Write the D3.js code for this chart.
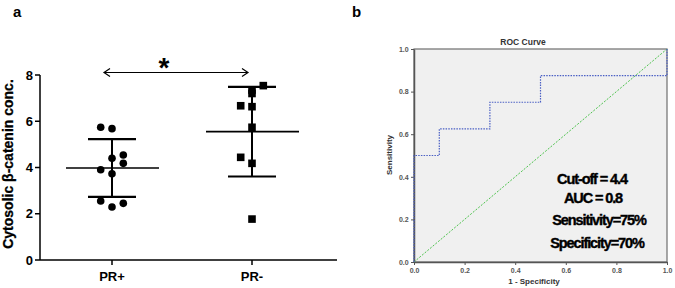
<!DOCTYPE html>
<html>
<head>
<meta charset="utf-8">
<script src="https://cdn.jsdelivr.net/npm/d3@7"></script>
<style>
  body { margin: 0; background: #fff; }
  svg { display: block; font-family: Arial, "Liberation Sans", sans-serif; }
</style>
</head>
<body>
<div id="chart"></div>
<script>
// panel a data
var groups = ["PR+", "PR-"];
var prPos = [5.74, 5.68, 4.40, 4.54, 4.18, 3.90, 3.73, 2.55, 2.29, 2.45];
var prPosOffset = [-1, 0, 0, 1, 1, -1, 0, -1, 0, 1];
var prNeg = [7.54, 7.35, 7.20, 6.67, 6.63, 5.74, 4.44, 4.18, 1.77];
var prNegOffset = [1, 0, 0, -1, 0, 0, -1, 0, 0];
var groupMean = [3.98, 5.55];
var groupSD = [1.25, 1.94];
var yTicksA = [0, 2, 4, 6, 8];

// panel b data
var rocFpr = [0, 0, 0.1, 0.1, 0.3, 0.3, 0.5, 0.5, 1, 1];
var rocTpr = [0, 0.5, 0.5, 0.625, 0.625, 0.75, 0.75, 0.875, 0.875, 1];
var rocTicks = [0, 0.2, 0.4, 0.6, 0.8, 1.0];
var statLines = ["Cut-off = 4.4", "AUC = 0.8", "Sensitivity=75%", "Specificity=70%"];

var svg = d3.select("#chart").append("svg")
    .attr("width", 675)
    .attr("height", 288);

// ---------- panel a ----------
var a = svg.append("g");

var xA = d3.scalePoint().domain(groups).range([112, 252]);
var yA = d3.scaleLinear().domain([0, 8]).range([260, 75]);

a.append("text").attr("x", 13).attr("y", 17)
    .attr("font-size", 15).attr("font-weight", "bold").text("a");

// axes
a.append("line").attr("x1", 40).attr("x2", 40).attr("y1", yA(8)).attr("y2", yA(0))
    .attr("stroke", "#000").attr("stroke-width", 1.5);
a.append("line").attr("x1", 40).attr("x2", 337).attr("y1", yA(0)).attr("y2", yA(0))
    .attr("stroke", "#000").attr("stroke-width", 1.5);

a.selectAll(".ytick").data(yTicksA).enter().append("line")
    .attr("x1", 35).attr("x2", 40)
    .attr("y1", d => yA(d)).attr("y2", d => yA(d))
    .attr("stroke", "#000").attr("stroke-width", 1.5);
a.selectAll(".ylab").data(yTicksA).enter().append("text")
    .attr("x", 33).attr("y", d => yA(d) + 4.5)
    .attr("text-anchor", "end").attr("font-size", 13).attr("font-weight", "bold")
    .text(d => d);

a.selectAll(".xtick").data(groups).enter().append("line")
    .attr("x1", d => xA(d)).attr("x2", d => xA(d))
    .attr("y1", yA(0)).attr("y2", yA(0) + 5)
    .attr("stroke", "#000").attr("stroke-width", 1.5);
a.selectAll(".xlab").data(groups).enter().append("text")
    .attr("x", d => xA(d)).attr("y", 281)
    .attr("text-anchor", "middle").attr("font-size", 13).attr("font-weight", "bold")
    .text(d => d);

a.append("text")
    .attr("transform", "translate(13,164) rotate(-90)")
    .attr("text-anchor", "middle").attr("font-size", 14).attr("font-weight", "bold")
    .attr("stroke", "#000").attr("stroke-width", 0.3)
    .text("Cytosolic β-catenin conc.");

// mean and SD bars
groups.forEach(function (g, i) {
    var cx = xA(g);
    var m = groupMean[i], s = groupSD[i];
    a.append("line").attr("x1", cx - 46).attr("x2", cx + 47)
        .attr("y1", yA(m)).attr("y2", yA(m))
        .attr("stroke", "#000").attr("stroke-width", 1.6);
    a.append("line").attr("x1", cx).attr("x2", cx)
        .attr("y1", yA(m + s)).attr("y2", yA(m - s))
        .attr("stroke", "#000").attr("stroke-width", 2);
    [m + s, m - s].forEach(function (v) {
        a.append("line").attr("x1", cx - 24).attr("x2", cx + 24)
            .attr("y1", yA(v)).attr("y2", yA(v))
            .attr("stroke", "#000").attr("stroke-width", 2.2);
    });
});

// points
a.selectAll(".dot").data(prPos).enter().append("circle")
    .attr("cx", (d, i) => xA("PR+") + prPosOffset[i] * 11.3)
    .attr("cy", d => yA(d))
    .attr("r", 3.8).attr("fill", "#000");

a.selectAll(".sq").data(prNeg).enter().append("rect")
    .attr("x", (d, i) => xA("PR-") + prNegOffset[i] * 11.3 - 3.8)
    .attr("y", d => yA(d) - 3.8)
    .attr("width", 7.6).attr("height", 7.6).attr("fill", "#000");

// significance arrow
var arrY = 72.5;
a.append("line").attr("x1", 104).attr("x2", 248).attr("y1", arrY).attr("y2", arrY)
    .attr("stroke", "#000").attr("stroke-width", 1.2);
a.append("path").attr("d", "M110," + (arrY - 4) + " L104," + arrY + " L110," + (arrY + 4))
    .attr("fill", "none").attr("stroke", "#000").attr("stroke-width", 1.2);
a.append("path").attr("d", "M242," + (arrY - 4) + " L248," + arrY + " L242," + (arrY + 4))
    .attr("fill", "none").attr("stroke", "#000").attr("stroke-width", 1.2);
a.append("text").attr("x", 164).attr("y", 77)
    .attr("text-anchor", "middle").attr("font-size", 28).attr("font-weight", "bold")
    .text("*");

// ---------- panel b ----------
var b = svg.append("g");

var xB = d3.scaleLinear().domain([0, 1]).range([414, 667]);
var yB = d3.scaleLinear().domain([0, 1]).range([262, 49]);

b.append("text").attr("x", 352).attr("y", 17)
    .attr("font-size", 15).attr("font-weight", "bold").text("b");

b.append("rect")
    .attr("x", xB(0)).attr("y", yB(1))
    .attr("width", xB(1) - xB(0)).attr("height", yB(0) - yB(1))
    .attr("fill", "#f0f0f0").attr("stroke", "#6e6e6e").attr("stroke-width", 1.2);

b.append("text").attr("x", 523).attr("y", 45)
    .attr("text-anchor", "middle").attr("font-size", 8.5).attr("font-weight", "bold")
    .attr("fill", "#333").text("ROC Curve");

var axB = b.append("g").attr("transform", "translate(0," + yB(0) + ")")
    .call(d3.axisBottom(xB).tickValues(rocTicks).tickFormat(d3.format(".1f")).tickSize(3).tickSizeOuter(0));
var ayB = b.append("g").attr("transform", "translate(" + xB(0) + ",0)")
    .call(d3.axisLeft(yB).tickValues(rocTicks).tickFormat(d3.format(".1f")).tickSize(3).tickSizeOuter(0));
[axB, ayB].forEach(function (g) {
    g.select(".domain").attr("stroke", "#555").attr("stroke-width", 1.5);
    g.selectAll(".tick line").attr("stroke", "#555");
    g.selectAll(".tick text").attr("font-size", 7).attr("font-weight", "bold")
        .attr("fill", "#555").attr("font-family", "Arial, 'Liberation Sans', sans-serif");
});
ayB.selectAll(".tick text").attr("dx", "0.1em");

b.append("text").attr("x", 534).attr("y", 284)
    .attr("text-anchor", "middle").attr("font-size", 8).attr("font-weight", "bold")
    .attr("fill", "#333").text("1 - Specificity");
b.append("text")
    .attr("transform", "translate(392,155) rotate(-90)")
    .attr("text-anchor", "middle").attr("font-size", 8).attr("font-weight", "bold")
    .attr("fill", "#333").text("Sensitivity");

// reference diagonal
b.append("line")
    .attr("x1", xB(0)).attr("y1", yB(0)).attr("x2", xB(1)).attr("y2", yB(1))
    .attr("stroke", "#4cc24c").attr("stroke-width", 1).attr("stroke-dasharray", "2,1.5");

// ROC step curve
var rocPts = rocFpr.map((f, i) => [f, rocTpr[i]]);
b.append("path")
    .datum(rocPts)
    .attr("d", d3.line().x(d => xB(d[0])).y(d => yB(d[1])))
    .attr("fill", "none").attr("stroke", "#4a5fc4").attr("stroke-width", 1.2)
    .attr("stroke-dasharray", "1.5,1.2");

// stats text
var statX = [592, 593, 599, 597];
var statY = [184, 203, 225, 248];
b.selectAll(".stat").data(statLines).enter().append("text")
    .attr("x", (d, i) => statX[i]).attr("y", (d, i) => statY[i])
    .attr("text-anchor", "middle").attr("font-size", 14.5).attr("font-weight", "bold")
    .attr("letter-spacing", -1.1)
    .attr("stroke", "#000").attr("stroke-width", 0.4)
    .text(d => d);
</script>
</body>
</html>
